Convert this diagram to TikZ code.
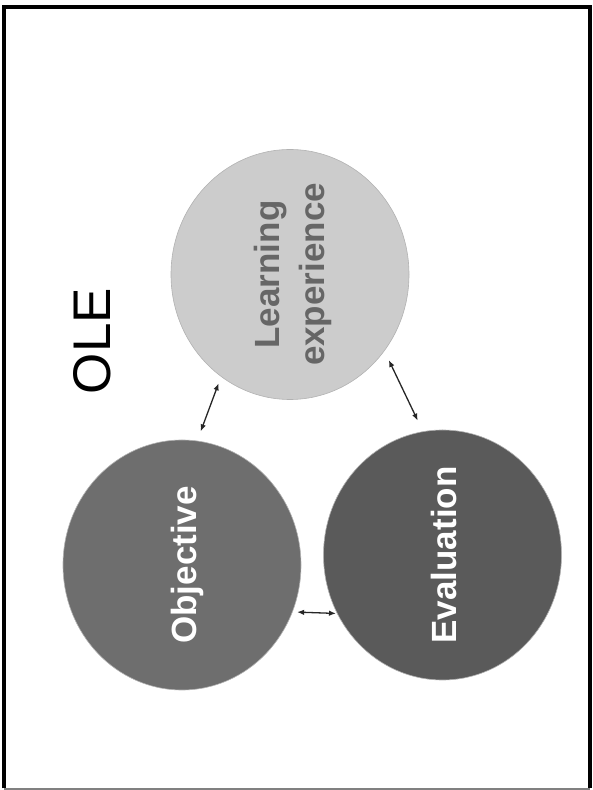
\documentclass[tikz,border=0pt]{standalone}
\usepackage{fontspec}
\setmainfont{Liberation Sans}
\usetikzlibrary{shapes.geometric,arrows.meta}
\definecolor{learnfill}{HTML}{CCCCCC}
\definecolor{learntext}{HTML}{666666}
\definecolor{objfill}{HTML}{6E6E6E}
\definecolor{evalfill}{HTML}{5A5A5A}

\begin{document}
\begin{tikzpicture}[x=1pt,y=1pt,
  bubble/.style={ellipse,minimum width=238pt,minimum height=250pt,inner sep=0pt,draw=black!30,line width=0.6pt},
  label/.style={rotate=90,align=center,font=\fontsize{35}{45}\selectfont\bfseries},
  link/.style={{Latex[length=7pt,width=5.5pt]}-{Latex[length=7pt,width=5.5pt]},line width=1.3pt,black!85}]
\useasboundingbox (0,0) rectangle (593,790);
% frame
\draw[line width=3.5pt] (3.8,1.5) -- (3.8,783) -- (590,783) -- (590,1.5);
\draw[gray,line width=1.5pt] (3.8,1) -- (590,1);
% title
\node[rotate=90,font=\fontsize{53}{60}\selectfont] (title) at (92,449) {OLE};
% circles
\node[bubble,fill=learnfill] (learn) at (290,515.5) {};
\node[bubble,fill=objfill] (obj) at (182,225) {};
\node[bubble,fill=evalfill] (eval) at (442.5,235) {};
\node[label,text=learntext] (learnlabel) at (293,515.5) {Learning\\experience};
\node[label,text=white] (objlabel) at (187,225) {Objective};
\node[label,text=white] (evallabel) at (443.5,235) {Evaluation};
% links
\draw[link,shorten <=7pt,shorten >=10pt] (learn.-124) -- (obj.83);
\draw[link,shorten <=10pt,shorten >=12pt] (learn.-39.5) -- (eval.99.3);
\draw[link,shorten <=4.5pt,shorten >=1pt] (obj.-23.7) -- (eval.209.7);
\end{tikzpicture}
\end{document}
